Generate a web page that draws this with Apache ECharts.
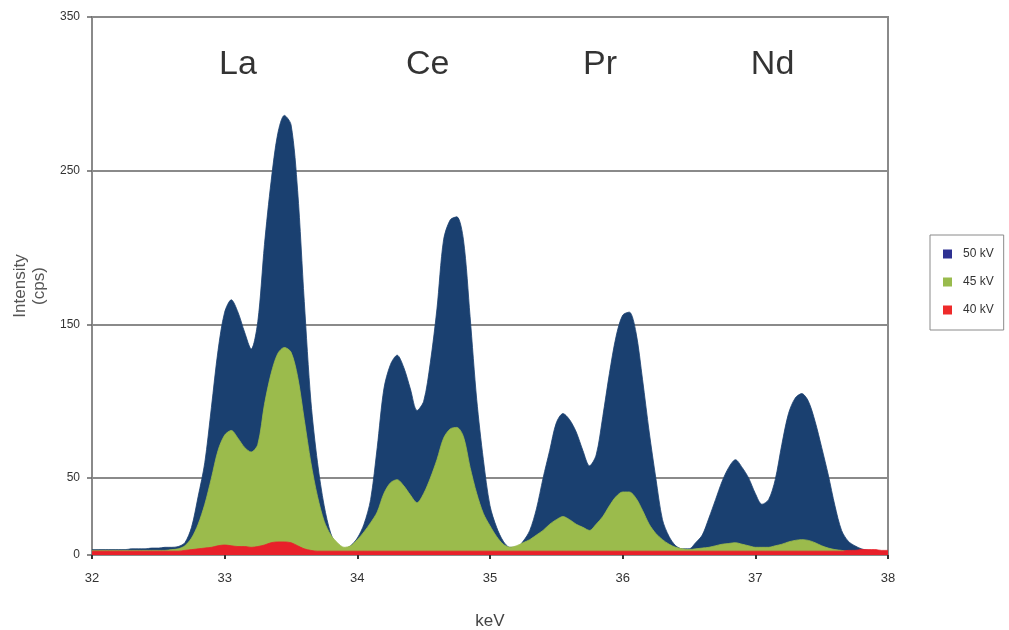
<!DOCTYPE html>
<html>
<head>
<meta charset="utf-8">
<script src="https://cdn.jsdelivr.net/npm/echarts@6/dist/echarts.min.js"></script>
<style>
html,body{margin:0;padding:0;background:#fff;}
#chart{width:1009px;height:630px;}
</style>
</head>
<body>
<div id="chart"></div>
<script>
// Energy grid (keV)
const energy = [
32.00,32.05,32.10,32.15,32.20,32.25,32.30,32.35,32.40,32.45,
32.50,32.55,32.60,32.65,32.70,32.75,32.80,32.85,32.90,32.95,
33.00,33.05,33.10,33.15,33.20,33.25,33.30,33.35,33.40,33.45,
33.50,33.55,33.60,33.65,33.70,33.75,33.80,33.85,33.90,33.95,
34.00,34.05,34.10,34.15,34.20,34.25,34.30,34.35,34.40,34.45,
34.50,34.55,34.60,34.65,34.70,34.75,34.80,34.85,34.90,34.95,
35.00,35.05,35.10,35.15,35.20,35.25,35.30,35.35,35.40,35.45,
35.50,35.55,35.60,35.65,35.70,35.75,35.80,35.85,35.90,35.95,
36.00,36.05,36.10,36.15,36.20,36.25,36.30,36.35,36.40,36.45,
36.50,36.55,36.60,36.65,36.70,36.75,36.80,36.85,36.90,36.95,
37.00,37.05,37.10,37.15,37.20,37.25,37.30,37.35,37.40,37.45,
37.50,37.55,37.60,37.65,37.70,37.75,37.80,37.85,37.90,37.95,
38.00];

// 50 kV intensity (cps)
const kv50 = [
3.5,3.5,3.5,3.5,3.5,3.5,4,4,4,4.5,
4.5,5,5,5.5,8,18,38,60,96,133,
158,166,158,145,134,152,202,243,274,286,
280,237,165,100,60,32,14,6,4,6,
11,20,36,70,108,124,130,122,108,94,
100,125,160,205,218,220,205,155,101,62,
32,18,9,5,5,9,16,30,50,68,
86,92,88,80,68,58,65,90,118,142,
156,158,145,114,80,50,23,12,6,4,
4,8,13,24,36,48,57,62,57,50,
40,33,36,49,72,92,102,105,100,87,
70,52,32,16,9,6,4,3,2.5,2,
2];

// 45 kV intensity (cps)
const kv45 = [
3,3,3,3,3,3,3,3,3,3,
3,3,3.5,4,6,11,20,33,50,68,
78,81,76,70,67,72,98,118,131,135,
132,116,88,60,38,22,13,8,5,6,
10,15,21,28,40,47,49,45,39,34,
40,50,62,76,82,83,77,57,40,27,
19,12,7,5,6,8,10,13,16,20,
23,25,23,20,18,16,20,25,32,38,
41,41,37,29,20,14,10,7,5,4,
3.5,4,4.5,5,6,7,7.5,8,7,6,
5,5,5,6,7,8.5,9.5,10,9.5,8,
6,4.5,3.5,3,2.5,2.5,2.5,2.5,2.5,2.5,
2.5];

// 40 kV intensity (cps)
const kv40 = [
2.5,2.5,2.5,2.5,2.5,2.5,2.5,2.5,2.5,2.5,
2.5,2.5,2.5,2.5,3,3.5,4,4.5,5,6,
6.5,6,5.5,5.5,5,5.5,6.5,8,8.5,8.5,
8,6,4,3,2.5,2.5,2.5,2.5,2.5,2.5,
2.5,2.5,2.5,2.5,2.5,2.5,2.5,2.5,2.5,2.5,
2.5,2.5,2.5,2.5,2.5,2.5,2.5,2.5,2.5,2.5,
2.5,2.5,2.5,2.5,2.5,2.5,2.5,2.5,2.5,2.5,
2.5,2.5,2.5,2.5,2.5,2.5,2.5,2.5,2.5,2.5,
2.5,2.5,2.5,2.5,2.5,2.5,2.5,2.5,2.5,2.5,
2.5,2.5,2.5,2.5,2.5,2.5,2.5,2.5,2.5,2.5,
2.5,2.5,2.5,2.5,2.5,2.5,2.5,2.5,2.5,2.5,
2.5,2.5,2.5,2.5,3,3,3.5,3.5,3.5,3,
3];

const seriesNames = ['50 kV', '45 kV', '40 kV'];
const yTickValues = [0, 50, 150, 250, 350];
const xTickValues = [32, 33, 34, 35, 36, 37, 38];
const elementNames = ['La', 'Ce', 'Pr', 'Nd'];
const elementKeV = [33.10, 34.53, 35.83, 37.13];
const elementLabelY = [319, 319, 319, 319];

const areaColors = ['#1a4070', '#9bbb4c', '#e8202a'];
const legendColors = ['#2e3192', '#99bb4d', '#ee2a2a'];

const pairs = arr => energy.map((e, i) => [e, arr[i]]);
const seriesData = [kv50, kv45, kv40];

const chart = echarts.init(document.getElementById('chart'), null, {renderer: 'canvas'});
const font = '"Liberation Sans", Arial, sans-serif';

const series = seriesNames.map((name, i) => ({
  name: name,
  type: 'line',
  data: pairs(seriesData[i]),
  smooth: 0.3,
  showSymbol: false,
  symbol: 'none',
  lineStyle: {width: 0.8, color: areaColors[i]},
  itemStyle: {color: legendColors[i]},
  areaStyle: {color: areaColors[i], opacity: 1},
  z: 2 + i,
  silent: true
}));

series.push({
  name: 'labels',
  type: 'scatter',
  symbolSize: 0,
  data: elementNames.map((n, i) => ({value: [elementKeV[i], elementLabelY[i]], name: n})),
  label: {
    show: true,
    position: 'inside',
    formatter: p => p.name,
    fontSize: 34,
    color: '#000',
    fontFamily: font
  },
  z: 10,
  silent: true
});

chart.setOption({
  animation: false,
  backgroundColor: '#fff',
  grid: {
    left: 92, right: 121, top: 17, bottom: 75,
    outerBoundsMode: 'none',
    containLabel: false,
    show: true, borderColor: '#8a8a8a', borderWidth: 2
  },
  legend: {
    data: seriesNames.map((n, i) => ({name: n, itemStyle: {color: legendColors[i]}})),
    orient: 'vertical',
    left: 930, top: 235,
    icon: 'rect',
    itemWidth: 9, itemHeight: 9,
    itemGap: 16,
    padding: [13, 10, 14, 13],
    borderColor: '#8a8a8a',
    borderWidth: 1,
    textStyle: {fontSize: 12, color: '#333', fontFamily: font, padding: [0, 0, 0, 6]}
  },
  xAxis: {
    type: 'value',
    min: 32, max: 38, interval: 1,
    name: 'keV',
    nameLocation: 'middle',
    nameGap: 58,
    nameTextStyle: {fontSize: 17, color: '#444', fontFamily: font},
    axisLine: {show: true, lineStyle: {color: '#8a8a8a', width: 2}},
    axisTick: {show: true, length: 4, lineStyle: {color: '#333', width: 2}},
    axisLabel: {fontSize: 13, color: '#333', margin: 17, fontFamily: font,
      customValues: xTickValues},
    splitLine: {show: false}
  },
  yAxis: {
    type: 'value',
    min: 0, max: 350,
    name: 'Intensity\n(cps)',
    nameLocation: 'middle',
    nameGap: 39,
    nameRotate: 90,
    nameTextStyle: {fontSize: 17, color: '#555', fontFamily: font, lineHeight: 19},
    axisLine: {show: true, lineStyle: {color: '#8a8a8a', width: 2}},
    axisTick: {show: true, length: 5, lineStyle: {color: '#666', width: 1.5},
      customValues: yTickValues},
    axisLabel: {fontSize: 12, color: '#333', margin: 12, fontFamily: font,
      customValues: yTickValues},
    splitLine: {show: true, lineStyle: {color: '#8a8a8a', width: 2}}
  },
  series: series
});
</script>
</body>
</html>
